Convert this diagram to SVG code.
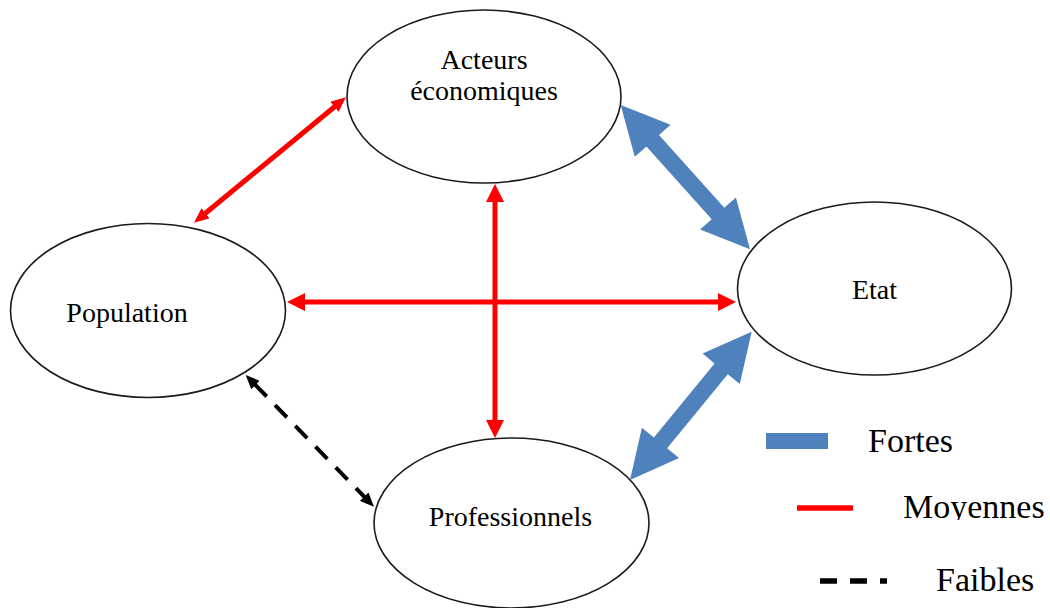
<svg xmlns="http://www.w3.org/2000/svg" width="1050" height="608" viewBox="0 0 1050 608">
<style>
.node{fill:#fff;stroke:#1a1a1a;stroke-width:1.6}
.lbl{font-family:"Liberation Serif","Times New Roman",serif;font-size:28px;fill:#000;text-anchor:middle}
.leg{font-family:"Liberation Serif","Times New Roman",serif;font-size:34px;fill:#000}
.red{stroke:#ff0000;stroke-width:5;fill:none}
.blk{stroke:#000;stroke-width:4;fill:none;stroke-dasharray:17 12}
.blue{fill:#4f81bd}
</style>
<defs>
<marker id="rh" markerUnits="userSpaceOnUse" markerWidth="18" markerHeight="18" refX="1" refY="9" orient="auto-start-reverse"><path d="M0,0 L18,9 L0,18 z" fill="#ff0000"/></marker>
<marker id="rs" markerUnits="userSpaceOnUse" markerWidth="15" markerHeight="13" refX="1" refY="6.5" orient="auto-start-reverse"><path d="M0,0 L15,6.5 L0,13 z" fill="#ff0000"/></marker>
<marker id="bh" markerUnits="userSpaceOnUse" markerWidth="14" markerHeight="12" refX="1" refY="6" orient="auto-start-reverse"><path d="M0,0 L14,6 L0,12 z" fill="#000"/></marker>
<clipPath id="clipMoy"><rect x="890" y="470" width="160" height="50"/></clipPath>
</defs>
<g id="connectors">
<line class="red" x1="204.8" y1="213.8" x2="335.2" y2="106.2" marker-start="url(#rs)" marker-end="url(#rs)"/>
<line class="red" x1="304" y1="302" x2="719" y2="302" marker-start="url(#rh)" marker-end="url(#rh)"/>
<line class="red" x1="495" y1="201" x2="495" y2="421" marker-start="url(#rh)" marker-end="url(#rh)"/>
<line class="blk" x1="254.8" y1="384.3" x2="364.9" y2="497.4" marker-start="url(#bh)" marker-end="url(#bh)"/>
<polygon class="blue" points="620.7,105 634.8,156.8 646.4,146.5 711.7,219.2 700.1,229.5 750,249.3 735.9,197.5 724.3,207.8 659,135.1 670.6,124.8"/>
<polygon class="blue" points="630,480 679.1,458.1 667.1,448.3 727.8,374.2 739.8,384 751.7,331.7 702.6,353.6 714.6,363.4 653.9,437.5 641.9,427.7"/>
</g>
<g id="acteurs">
<ellipse class="node" cx="484" cy="96.5" rx="137" ry="86.5"/>
<text class="lbl" x="484" y="69">Acteurs</text>
<text class="lbl" x="484" y="100">économiques</text>
</g>
<g id="population">
<ellipse class="node" cx="148" cy="310.5" rx="137.5" ry="87"/>
<text class="lbl" x="127" y="322">Population</text>
</g>
<g id="etat">
<ellipse class="node" cx="874.5" cy="288.5" rx="137" ry="86.5"/>
<text class="lbl" x="874.5" y="299">Etat</text>
</g>
<g id="professionnels">
<ellipse class="node" cx="511.5" cy="523" rx="137.5" ry="85"/>
<text class="lbl" x="510.5" y="526">Professionnels</text>
</g>
<g id="legend">
<rect class="blue" x="766" y="433" width="62" height="16"/>
<text class="leg" x="868" y="452">Fortes</text>
<line x1="797" y1="508" x2="853" y2="508" stroke="#ff0000" stroke-width="5.5"/>
<text class="leg" x="903" y="518" clip-path="url(#clipMoy)">Moyennes</text>
<line x1="820" y1="581" x2="887" y2="581" stroke="#000" stroke-width="5.5" stroke-dasharray="17 13"/>
<text class="leg" x="936" y="591">Faibles</text>
</g>
</svg>
